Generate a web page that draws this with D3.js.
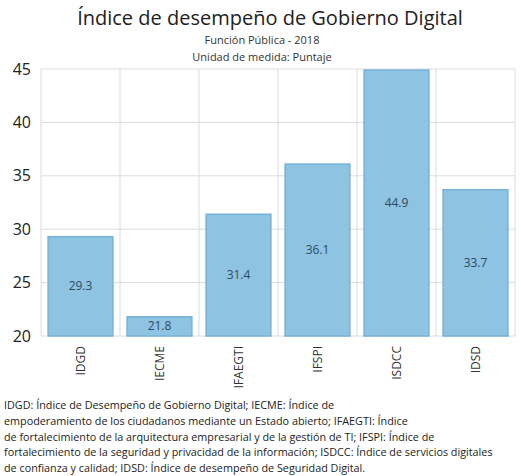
<!DOCTYPE html>
<html>
<head>
<meta charset="utf-8">
<script src="https://cdn.jsdelivr.net/npm/d3@7"></script>
<style>
  body { margin: 0; background: #fff; }
  text { font-family: "Open Sans", "Noto Sans", sans-serif; }
</style>
</head>
<body>
<div id="chart"></div>
<script>
const categories = ["IDGD", "IECME", "IFAEGTI", "IFSPI", "ISDCC", "IDSD"];
const values = [29.3, 21.8, 31.4, 36.1, 44.9, 33.7];
const yTicks = [20, 25, 30, 35, 40, 45];
const footnoteLines = [
    "IDGD: Índice de Desempeño de Gobierno Digital; IECME: Índice de",
    "empoderamiento de los ciudadanos mediante un Estado abierto; IFAEGTI: Índice",
    "de fortalecimiento de la arquitectura empresarial y de la gestión de TI; IFSPI: Índice de",
    "fortalecimiento de la seguridad y privacidad de la información; ISDCC: Índice de servicios digitales",
    "de confianza y calidad; IDSD: Índice de desempeño de Seguridad Digital."
];

const W = 521, H = 476;
const margin = { top: 69, left: 41, right: 6, bottom: 140 };
const innerW = W - margin.left - margin.right;
const innerH = H - margin.top - margin.bottom;

const svg = d3.select("#chart")
    .append("svg")
    .attr("width", W)
    .attr("height", H);

// titles
svg.append("text")
    .attr("x", 270).attr("y", 25)
    .attr("text-anchor", "middle")
    .style("font-size", "20px")
    .attr("fill", "#222")
    .text("Índice de desempeño de Gobierno Digital");
svg.append("text")
    .attr("x", 262).attr("y", 44)
    .attr("text-anchor", "middle")
    .style("font-size", "11px")
    .attr("fill", "#333")
    .text("Función Pública - 2018");
svg.append("text")
    .attr("x", 262).attr("y", 61)
    .attr("text-anchor", "middle")
    .style("font-size", "11px")
    .attr("fill", "#333")
    .text("Unidad de medida: Puntaje");

const g = svg.append("g")
    .attr("transform", `translate(${margin.left},${margin.top})`);

const x = d3.scaleBand()
    .domain(categories)
    .range([0, innerW])
    .paddingInner(0.18)
    .paddingOuter(0.09);

const y = d3.scaleLinear()
    .domain([20, 45])
    .range([innerH, 0]);

// horizontal grid
g.append("g")
    .selectAll("line")
    .data(yTicks)
    .join("line")
    .attr("x1", 0).attr("x2", innerW)
    .attr("y1", d => y(d)).attr("y2", d => y(d))
    .attr("stroke", "#dcdcdc");

// vertical grid at band boundaries
const bounds = d3.range(categories.length + 1).map(i => i * innerW / categories.length);
g.append("g")
    .selectAll("line")
    .data(bounds)
    .join("line")
    .attr("x1", d => d).attr("x2", d => d)
    .attr("y1", 0).attr("y2", innerH)
    .attr("stroke", "#dcdcdc");

// y axis labels
const yAxis = g.append("g")
    .call(d3.axisLeft(y).tickValues(yTicks).tickSize(0).tickPadding(10));
yAxis.select(".domain").remove();
yAxis.selectAll("text")
    .style("font-size", "16px")
    .style("font-family", "'Open Sans', sans-serif")
    .attr("fill", "#222");

// bars
g.selectAll("rect.bar")
    .data(values)
    .join("rect")
    .attr("class", "bar")
    .attr("x", (d, i) => x(categories[i]))
    .attr("y", d => y(d))
    .attr("width", x.bandwidth())
    .attr("height", d => innerH - y(d))
    .attr("fill", "#8ec3e2")
    .attr("stroke", "#76b2d8")
    .attr("stroke-width", 1.5);

// value labels
g.selectAll("text.val")
    .data(values)
    .join("text")
    .attr("class", "val")
    .attr("x", (d, i) => x(categories[i]) + x.bandwidth() / 2)
    .attr("y", d => (y(d) + innerH) / 2 + 4)
    .attr("text-anchor", "middle")
    .style("font-size", "12px")
    .attr("fill", "#2e4a63")
    .text(d => d.toFixed(1));

// x axis labels rotated
const xAxis = g.append("g")
    .attr("transform", `translate(0,${innerH})`)
    .call(d3.axisBottom(x).tickSize(0));
xAxis.select(".domain").remove();
xAxis.selectAll("text")
    .attr("transform", "rotate(-90)")
    .attr("x", -10)
    .attr("y", 0)
    .attr("dy", "0.35em")
    .style("text-anchor", "end")
    .style("font-size", "12px")
    .style("font-family", "'Open Sans', sans-serif")
    .attr("fill", "#333");

// footnote
svg.append("g")
    .selectAll("text")
    .data(footnoteLines)
    .join("text")
    .attr("x", 4)
    .attr("y", (d, i) => 409 + i * 15.8)
    .style("font-size", "10.8px")
    .attr("fill", "#222")
    .text(d => d);
</script>
</body>
</html>
